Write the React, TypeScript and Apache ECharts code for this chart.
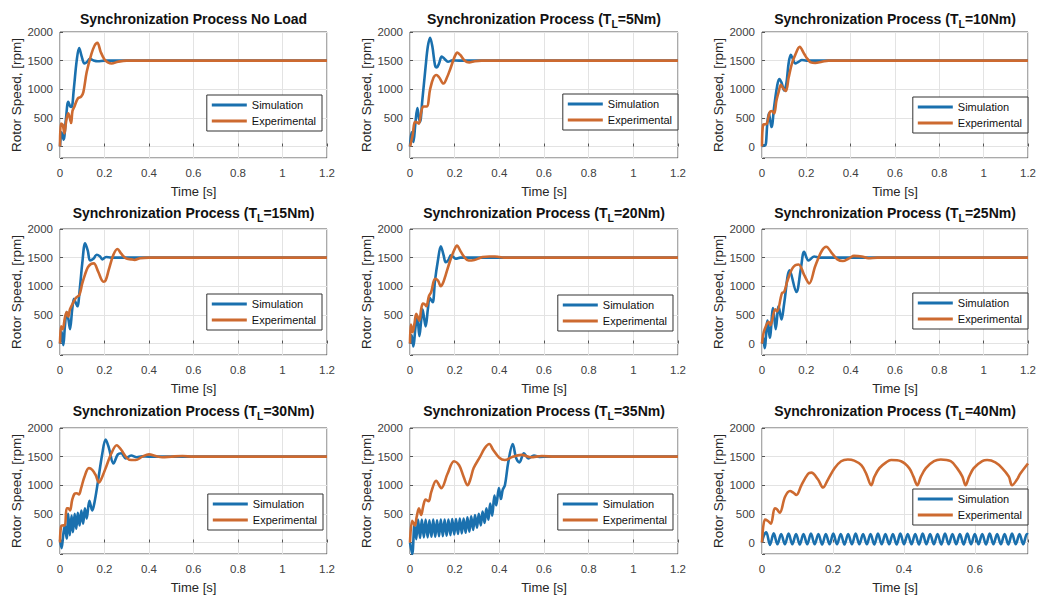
import React, { useEffect, useRef } from "react";
import * as echarts from "echarts";

const FONT = "'Liberation Sans', Arial, Helvetica, sans-serif";
const BLUE = "#1a70ae";
const ORANGE = "#cd6a30";

// ---------- categories / ticks ----------
const loadLabels = ["No Load", "5", "10", "15", "20", "25", "30", "35", "40"];
const seriesNames = ["Simulation", "Experimental"];
const yTickValues = [0, 500, 1000, 1500, 2000];
const xTicksFull = [0, 0.2, 0.4, 0.6, 0.8, 1, 1.2];
const xTicksShort = [0, 0.2, 0.4, 0.6];
const xMaxes = [1.2, 1.2, 1.2, 1.2, 1.2, 1.2, 1.2, 1.2, 0.75];

// ---------- data: [time s, rotor speed rpm] ----------
const simNoLoad = [[0,0],[0.007,250],[0.016,120],[0.026,450],[0.037,780],[0.046,700],[0.052,690],[0.062,1000],[0.075,1500],[0.086,1720],[0.097,1580],[0.11,1450],[0.12,1470],[0.135,1530],[0.15,1505],[0.17,1490],[0.2,1500],[0.25,1500],[1.2,1500]];
const expNoLoad = [[0,0],[0.004,400],[0.012,380],[0.02,230],[0.028,450],[0.037,580],[0.044,500],[0.05,410],[0.056,620],[0.065,700],[0.08,840],[0.095,870],[0.105,950],[0.12,1300],[0.14,1600],[0.155,1760],[0.168,1810],[0.183,1650],[0.2,1520],[0.215,1470],[0.232,1450],[0.26,1480],[0.3,1500],[1.2,1500]];

const sim5 = [[0,0],[0.007,250],[0.015,80],[0.024,400],[0.033,670],[0.04,500],[0.045,430],[0.055,800],[0.07,1400],[0.08,1750],[0.09,1900],[0.1,1750],[0.112,1420],[0.12,1380],[0.13,1450],[0.142,1570],[0.155,1530],[0.17,1480],[0.19,1505],[0.22,1500],[1.2,1500]];
const exp5 = [[0,0],[0.005,80],[0.012,200],[0.022,430],[0.032,420],[0.04,400],[0.05,600],[0.06,700],[0.075,700],[0.09,1000],[0.105,1200],[0.118,1250],[0.13,1210],[0.15,1100],[0.165,1200],[0.18,1350],[0.2,1570],[0.212,1640],[0.225,1600],[0.245,1500],[0.265,1470],[0.29,1490],[0.32,1500],[1.2,1500]];

const sim10 = [[0,0],[0.008,20],[0.015,20],[0.024,400],[0.031,580],[0.037,450],[0.043,340],[0.055,700],[0.068,1050],[0.078,1180],[0.088,1120],[0.1,980],[0.11,1100],[0.12,1450],[0.13,1600],[0.14,1520],[0.15,1450],[0.165,1480],[0.18,1510],[0.2,1500],[1.2,1500]];
const exp10 = [[0,0],[0.005,380],[0.015,390],[0.022,400],[0.035,600],[0.045,620],[0.055,580],[0.065,800],[0.075,950],[0.085,1080],[0.095,1020],[0.108,970],[0.12,1200],[0.135,1450],[0.15,1600],[0.17,1740],[0.19,1620],[0.205,1530],[0.22,1470],[0.24,1460],[0.27,1480],[0.3,1500],[1.2,1500]];

const sim15 = [[0,0],[0.008,200],[0.015,-30],[0.022,300],[0.03,550],[0.038,420],[0.045,250],[0.055,600],[0.063,780],[0.07,720],[0.078,650],[0.09,1000],[0.1,1400],[0.113,1750],[0.125,1620],[0.135,1450],[0.15,1480],[0.165,1550],[0.18,1520],[0.19,1470],[0.207,1510],[0.23,1500],[1.2,1500]];
const exp15 = [[0,0],[0.005,300],[0.012,250],[0.022,450],[0.03,550],[0.037,470],[0.045,600],[0.06,720],[0.072,800],[0.087,850],[0.1,1050],[0.112,1200],[0.125,1330],[0.14,1390],[0.152,1400],[0.172,1250],[0.195,1080],[0.205,1100],[0.22,1300],[0.24,1550],[0.258,1650],[0.275,1570],[0.295,1490],[0.32,1470],[0.335,1460],[0.36,1490],[0.4,1500],[1.2,1500]];

const sim20 = [[0,0],[0.007,150],[0.015,-50],[0.025,300],[0.033,450],[0.042,130],[0.05,400],[0.056,600],[0.063,450],[0.07,300],[0.08,600],[0.088,800],[0.096,750],[0.102,720],[0.112,1100],[0.125,1450],[0.138,1700],[0.15,1550],[0.16,1420],[0.172,1460],[0.183,1540],[0.195,1510],[0.205,1480],[0.225,1500],[1.2,1500]];
const exp20 = [[0,0],[0.004,330],[0.012,200],[0.02,350],[0.028,520],[0.036,450],[0.042,400],[0.05,600],[0.058,700],[0.067,680],[0.073,650],[0.085,830],[0.095,900],[0.112,1130],[0.125,1100],[0.138,1000],[0.15,1080],[0.16,1200],[0.18,1450],[0.2,1650],[0.21,1710],[0.228,1600],[0.245,1500],[0.262,1450],[0.288,1460],[0.31,1490],[0.325,1510],[0.355,1520],[0.38,1520],[0.4,1510],[0.42,1500],[1.2,1500]];

const sim25 = [[0,0],[0.006,100],[0.012,-80],[0.025,400],[0.035,100],[0.05,620],[0.062,250],[0.075,650],[0.088,420],[0.1,700],[0.125,1280],[0.155,900],[0.175,1300],[0.19,1600],[0.21,1450],[0.235,1520],[0.26,1500],[1.2,1500]];
const exp25 = [[0,0],[0.005,150],[0.012,250],[0.03,380],[0.038,320],[0.06,600],[0.068,560],[0.09,880],[0.1,900],[0.115,1100],[0.14,1330],[0.165,1380],[0.19,1200],[0.213,1050],[0.24,1350],[0.27,1620],[0.29,1690],[0.315,1580],[0.34,1470],[0.365,1440],[0.39,1480],[0.415,1530],[0.45,1520],[0.48,1490],[0.52,1500],[1.2,1500]];

const sim30 = [[0,50],[0.007,-100],[0.015,150],[0.022,300],[0.03,70],[0.037,500],[0.044,130],[0.052,470],[0.058,180],[0.066,500],[0.073,240],[0.08,520],[0.088,300],[0.096,560],[0.104,330],[0.112,600],[0.12,420],[0.132,730],[0.145,560],[0.155,700],[0.17,1050],[0.19,1550],[0.205,1800],[0.22,1650],[0.24,1380],[0.26,1540],[0.275,1560],[0.295,1470],[0.32,1520],[0.345,1490],[0.37,1505],[0.4,1500],[1.2,1500]];
const exp30 = [[0,0],[0.005,280],[0.015,300],[0.022,300],[0.03,600],[0.037,600],[0.045,560],[0.055,750],[0.065,850],[0.075,860],[0.085,840],[0.095,950],[0.11,1150],[0.13,1300],[0.145,1270],[0.16,1180],[0.175,1050],[0.19,1150],[0.21,1350],[0.23,1550],[0.255,1700],[0.275,1620],[0.3,1480],[0.32,1440],[0.34,1440],[0.37,1500],[0.4,1540],[0.43,1510],[0.46,1490],[0.5,1500],[0.55,1510],[0.6,1500],[1.2,1500]];

const sim35 = [[0,0],[0.01,-200],[0.02,300],[0.028,60],[0.036,400],[0.045,80],[0.053,400],[0.062,90],[0.07,400],[0.079,90],[0.087,390],[0.096,100],[0.104,400],[0.113,100],[0.121,390],[0.13,110],[0.138,400],[0.147,110],[0.155,400],[0.164,120],[0.172,400],[0.181,130],[0.189,410],[0.198,140],[0.206,410],[0.215,150],[0.223,420],[0.232,160],[0.24,420],[0.249,170],[0.257,440],[0.266,190],[0.274,460],[0.283,220],[0.291,480],[0.3,260],[0.308,500],[0.317,300],[0.325,540],[0.334,340],[0.342,600],[0.351,400],[0.359,680],[0.368,470],[0.378,820],[0.386,650],[0.398,950],[0.407,760],[0.415,920],[0.425,1000],[0.44,1400],[0.46,1720],[0.475,1480],[0.49,1400],[0.51,1560],[0.53,1470],[0.555,1520],[0.58,1495],[0.62,1500],[1.2,1500]];
const exp35 = [[0,0],[0.01,380],[0.022,300],[0.03,450],[0.04,600],[0.05,480],[0.06,650],[0.07,750],[0.083,720],[0.095,880],[0.117,1080],[0.14,950],[0.168,1200],[0.197,1420],[0.22,1350],[0.24,1150],[0.258,1000],[0.27,1100],[0.285,1300],[0.314,1500],[0.335,1650],[0.355,1720],[0.372,1620],[0.4,1480],[0.424,1440],[0.46,1500],[0.5,1530],[0.54,1490],[0.59,1510],[0.65,1500],[1.2,1500]];

const sim40 = [[0,0],[0.005,120],[0.012,180],[0.0225,-40],[0.033,160],[0.0435,-30],[0.054,150],[0.0645,-30],[0.075,155],[0.0855,-30],[0.096,150],[0.1065,-35],[0.117,150],[0.1275,-30],[0.138,155],[0.1485,-30],[0.159,150],[0.1695,-35],[0.18,150],[0.1905,-30],[0.201,155],[0.2115,-30],[0.222,150],[0.2325,-35],[0.243,150],[0.2535,-30],[0.264,155],[0.2745,-30],[0.285,150],[0.2955,-30],[0.306,150],[0.3165,-35],[0.327,155],[0.3375,-30],[0.348,150],[0.3585,-30],[0.369,150],[0.3795,-35],[0.39,155],[0.4005,-30],[0.411,150],[0.4215,-30],[0.432,150],[0.4425,-35],[0.453,155],[0.4635,-30],[0.474,150],[0.4845,-30],[0.495,150],[0.5055,-35],[0.516,155],[0.5265,-30],[0.537,150],[0.5475,-30],[0.558,150],[0.5685,-35],[0.579,155],[0.5895,-30],[0.6,150],[0.6105,-30],[0.621,150],[0.6315,-35],[0.642,155],[0.6525,-30],[0.663,150],[0.6735,-30],[0.684,150],[0.6945,-35],[0.705,155],[0.7155,-30],[0.726,150],[0.7365,-30],[0.747,150],[0.75,140]];
const exp40 = [[0,0],[0.008,400],[0.016,380],[0.025,330],[0.036,600],[0.042,580],[0.05,520],[0.065,800],[0.079,900],[0.088,870],[0.097,830],[0.111,1000],[0.13,1200],[0.139,1220],[0.158,1100],[0.172,960],[0.186,1100],[0.205,1300],[0.223,1420],[0.242,1450],[0.26,1430],[0.28,1350],[0.294,1200],[0.308,1000],[0.317,1150],[0.331,1300],[0.35,1400],[0.364,1440],[0.392,1420],[0.415,1300],[0.427,1150],[0.438,1000],[0.448,1150],[0.462,1300],[0.485,1420],[0.504,1450],[0.532,1420],[0.55,1300],[0.565,1150],[0.574,1000],[0.584,1150],[0.597,1300],[0.621,1420],[0.635,1440],[0.658,1400],[0.677,1300],[0.696,1150],[0.705,1000],[0.719,1100],[0.728,1200],[0.75,1380]];

const simSets = [simNoLoad, sim5, sim10, sim15, sim20, sim25, sim30, sim35, sim40];
const expSets = [expNoLoad, exp5, exp10, exp15, exp20, exp25, exp30, exp35, exp40];

// ---------- layout ----------
const colLeft = [60, 410, 762];
const colWidth = [267, 268, 266];
const rowTop = [32, 229, 428];
const titleTop = [8, 202, 400];
const rowHeight = 126;
const legendRight = [1044 - 322, 1044 - 678, 1044 - 1028, 1044 - 322, 1044 - 673, 1044 - 1028, 1044 - 323, 1044 - 673, 1044 - 1028];
const legendTop = [95, 94, 97, 294, 295, 293, 494, 494, 489];

function near(list: number[], v: number) {
  return list.some((t) => Math.abs(t - v) < 1e-6);
}

export default function App() {
  const ref = useRef<HTMLDivElement>(null);
  useEffect(() => {
    document.body.style.margin = "0";
    if (!ref.current) return;
    const chart = echarts.init(ref.current, undefined, { renderer: "svg" });
    const idx = [0, 1, 2, 3, 4, 5, 6, 7, 8];
    const grids = idx.map((i) => ({
      left: colLeft[i % 3],
      top: rowTop[Math.floor(i / 3)],
      width: colWidth[i % 3],
      height: rowHeight,
      show: true,
      borderColor: "#555",
      borderWidth: 1,
      backgroundColor: "#fff",
      containLabel: false,
    }));
    const titles = idx.map((i) => ({
      text:
        i === 0
          ? "{b|Synchronization Process No Load}"
          : `{b|Synchronization Process (T}{s|L}{b|=${loadLabels[i]}Nm)}`,
      left: colLeft[i % 3] + colWidth[i % 3] / 2,
      top: titleTop[Math.floor(i / 3)],
      textAlign: "center",
      padding: 0,
      textStyle: {
        rich: {
          b: { fontFamily: FONT, fontSize: 14, fontWeight: "bold", color: "#111", lineHeight: 21 },
          s: { fontFamily: FONT, fontSize: 10.5, fontWeight: "bold", color: "#111", lineHeight: 11, verticalAlign: "bottom" },
        },
      },
    }));
    const xAxes = idx.map((i) => {
      const ticks = i === 8 ? xTicksShort : xTicksFull;
      return {
        gridIndex: i,
        type: "value",
        min: 0,
        max: xMaxes[i],
        interval: 0.2,
        name: "Time [s]",
        nameLocation: "middle",
        nameGap: 27,
        nameTextStyle: { fontFamily: FONT, fontSize: 13, color: "#262626" },
        axisLine: { show: false },
        axisTick: { show: true, inside: true, length: 3, lineStyle: { color: "#555" } },
        axisLabel: {
          fontFamily: FONT,
          fontSize: 11.5,
          color: "#404040",
          margin: 9,
          showMaxLabel: true,
          formatter: (v: number) => (near(ticks, v) ? String(Math.round(v * 10) / 10) : ""),
        },
        splitLine: { show: true, lineStyle: { color: "#e3e3e3", width: 1 } },
      };
    });
    const yAxes = idx.map((i) => ({
      gridIndex: i,
      type: "value",
      min: -200,
      max: 2000,
      splitNumber: 5,
      name: "Rotor Speed, [rpm]",
      nameLocation: "middle",
      nameGap: 36,
      nameTextStyle: { fontFamily: FONT, fontSize: 13.5, color: "#262626" },
      axisLine: { show: false },
      axisTick: { show: true, inside: true, length: 3, lineStyle: { color: "#555" } },
      axisLabel: {
        fontFamily: FONT,
        fontSize: 11.5,
        color: "#404040",
        margin: 7,
        formatter: (v: number) => (near(yTickValues, v) ? String(v) : ""),
      },
      splitLine: { show: true, lineStyle: { color: "#e3e3e3", width: 1 } },
    }));
    const series: any[] = [];
    idx.forEach((i) => {
      series.push({
        name: seriesNames[0],
        type: "line",
        xAxisIndex: i,
        yAxisIndex: i,
        data: simSets[i],
        showSymbol: false,
        symbol: "none",
        smooth: 0.35,
        color: BLUE,
        lineStyle: { color: BLUE, width: 2.6 },
        clip: true,
        z: 2,
      });
      series.push({
        name: seriesNames[1],
        type: "line",
        xAxisIndex: i,
        yAxisIndex: i,
        data: expSets[i],
        showSymbol: false,
        symbol: "none",
        smooth: 0.35,
        color: ORANGE,
        lineStyle: { color: ORANGE, width: 2.6 },
        clip: true,
        z: 3,
      });
    });
    const legends = idx.map((i) => ({
      data: seriesNames,
      orient: "vertical",
      right: legendRight[i],
      top: legendTop[i],
      icon: "rect",
      itemWidth: 35,
      itemHeight: 3,
      itemGap: 2,
      padding: [3, 6, 3, 5],
      selectedMode: false,
      backgroundColor: "#fff",
      borderColor: "#333",
      borderWidth: 1,
      borderRadius: 0,
      textStyle: { fontFamily: FONT, fontSize: 11, color: "#111", lineHeight: 14 },
      z: 10,
    }));
    chart.setOption({
      animation: false,
      backgroundColor: "#fff",
      title: titles,
      grid: grids,
      xAxis: xAxes,
      yAxis: yAxes,
      legend: legends,
      series,
    });
    return () => chart.dispose();
  }, []);
  return <div ref={ref} style={{ width: 1044, height: 596 }} />;
}
